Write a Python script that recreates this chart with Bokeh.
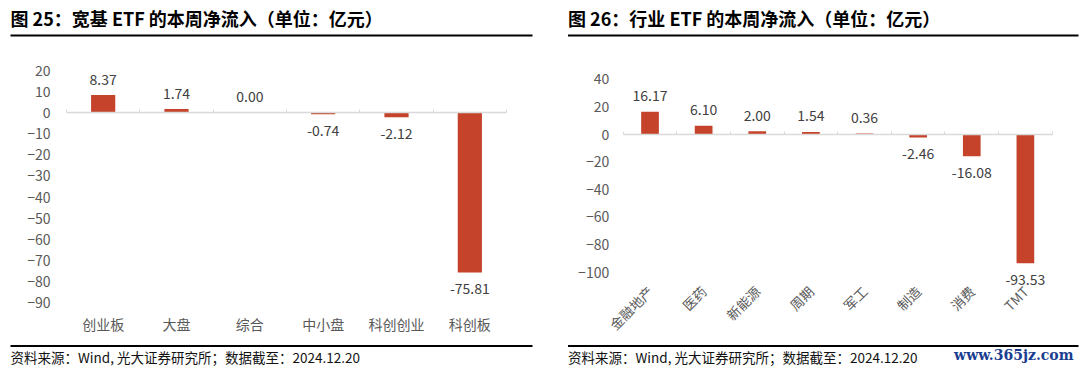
import math
from bokeh.plotting import figure
from bokeh.models import (LinearAxis, FixedTicker, Label, Range1d,
                          ColumnDataSource, CustomJSTickFormatter)
from bokeh.layouts import row
from bokeh.embed import file_html
from bokeh.resources import INLINE
from bokeh.core.properties import value

# ---------------- data ----------------
left_title = "图 25：宽基 ETF 的本周净流入（单位：亿元）"
left_categories = ["创业板", "大盘", "综合", "中小盘", "科创创业", "科创板"]
left_values = [8.37, 1.74, 0.00, -0.74, -2.12, -75.81]
left_yticks = [20, 10, 0, -10, -20, -30, -40, -50, -60, -70, -80, -90]

right_title = "图 26：行业 ETF 的本周净流入（单位：亿元）"
right_categories = ["金融地产", "医药", "新能源", "周期", "军工", "制造", "消费", "TMT"]
right_values = [16.17, 6.10, 2.00, 1.54, 0.36, -2.46, -16.08, -93.53]
right_yticks = [40, 20, 0, -20, -40, -60, -80, -100]

source_note = "资料来源：Wind, 光大证券研究所；数据截至：2024.12.20"
watermark = "www.365jz.com"

# ---------------- style ----------------
FONT = "Noto Sans CJK SC"
BAR = "#C5432A"
TICK_C = "#595959"
LABEL_C = "#404040"
AXIS_C = "#D9D9D9"
W, H = 540, 369


def panel(title, cats, vals, yticks, title_x, line_x0, line_x1,
          axis_left, band, zero_py, ppu, ylab_standoff, cat_py,
          rotate=False, mark=None):
    n = len(cats)

    def X(px):
        return (px - axis_left) / band

    def Y(py):
        return (zero_py - py) / ppu

    p = figure(width=W, height=H, output_backend="svg", toolbar_location=None,
               x_axis_type=None, y_axis_type=None,
               x_range=Range1d(X(0), X(W)), y_range=Range1d(Y(H), Y(0)),
               min_border=0, min_border_left=0, min_border_right=0,
               min_border_top=0, min_border_bottom=0)
    p.outline_line_color = None
    p.background_fill_color = "white"
    p.border_fill_color = "white"
    p.grid.visible = False

    xs = [i + 0.5 for i in range(n)]
    src = ColumnDataSource(dict(
        x=xs, top=vals,
        lab=[f"{v:.2f}" for v in vals],
        off=[-16 if v >= 0 else 16 for v in vals],
    ))
    p.vbar(x="x", top="top", bottom=0, width=0.33, source=src,
           fill_color=BAR, line_color=None)
    p.text(x="x", y="top", text="lab", y_offset="off", source=src,
           text_align="center", text_baseline="middle",
           text_font=value(FONT), text_font_size="14px", text_color=LABEL_C)

    # y axis (labels only)
    ya = LinearAxis(ticker=FixedTicker(ticks=yticks), fixed_location=0)
    ya.axis_line_color = None
    ya.major_tick_line_color = None
    ya.minor_tick_line_color = None
    ya.major_tick_in = 0
    ya.major_tick_out = 0
    ya.major_label_standoff = ylab_standoff
    ya.major_label_text_font = FONT
    ya.major_label_text_font_size = "14px"
    ya.major_label_text_color = TICK_C
    p.add_layout(ya, "left")

    # zero line with boundary ticks
    xa = LinearAxis(ticker=FixedTicker(ticks=list(range(n + 1))),
                    fixed_location=0, bounds=(0, n))
    xa.axis_line_color = AXIS_C
    xa.axis_line_width = 1.5
    xa.major_tick_line_color = AXIS_C
    xa.major_tick_in = 3
    xa.major_tick_out = 0
    xa.minor_tick_line_color = None
    xa.formatter = CustomJSTickFormatter(code="return ''")
    xa.major_label_text_font_size = "0px"
    p.add_layout(xa, "below")

    # category labels
    ca = LinearAxis(ticker=FixedTicker(ticks=xs), fixed_location=Y(cat_py))
    ca.axis_line_color = None
    ca.major_tick_line_color = None
    ca.minor_tick_line_color = None
    ca.major_tick_in = 0
    ca.major_tick_out = 0
    ca.major_label_standoff = 0
    ca.formatter = CustomJSTickFormatter(args=dict(names=cats),
                                         code="return names[Math.floor(tick)] || ''")
    ca.major_label_text_font = FONT
    ca.major_label_text_font_size = "14px" if not rotate else "13.5px"
    ca.major_label_text_color = TICK_C
    if rotate:
        ca.major_label_orientation = math.pi / 4
    p.add_layout(ca, "below")

    # title, rules, note
    p.add_layout(Label(x=X(title_x), y=Y(17), text=title, text_font=FONT,
                       text_font_size="18px", text_font_style="bold",
                       text_color="#000000", text_baseline="middle"))
    p.segment(x0=[X(line_x0), X(line_x0)], x1=[X(line_x1), X(line_x1)],
              y0=[Y(35), Y(345.5)], y1=[Y(35), Y(345.5)],
              line_color="#000000", line_width=2)
    p.add_layout(Label(x=X(line_x0), y=Y(356), text=source_note, text_font=FONT,
                       text_font_size="13.5px", text_color="#111111",
                       text_baseline="middle"))
    if mark:
        p.add_layout(Label(x=X(533), y=Y(354), text=mark,
                           text_font="DejaVu Serif", text_font_size="14px",
                           text_font_style="bold", text_color="#1B3D8F",
                           text_align="right", text_baseline="middle"))
    return p


left = panel(left_title, left_categories, left_values, left_yticks,
             title_x=10, line_x0=10, line_x1=532,
             axis_left=66, band=440 / 6, zero_py=112.2, ppu=232 / 110,
             ylab_standoff=16, cat_py=313)
right = panel(right_title, right_categories, right_values, right_yticks,
              title_x=27.5, line_x0=27.5, line_x1=538,
              axis_left=82.7, band=429 / 8, zero_py=133.6, ppu=193.4 / 140,
              ylab_standoff=14, cat_py=288, rotate=True, mark=watermark)

layout = row(left, right)
open("out.html", "w").write(file_html(layout, INLINE))
